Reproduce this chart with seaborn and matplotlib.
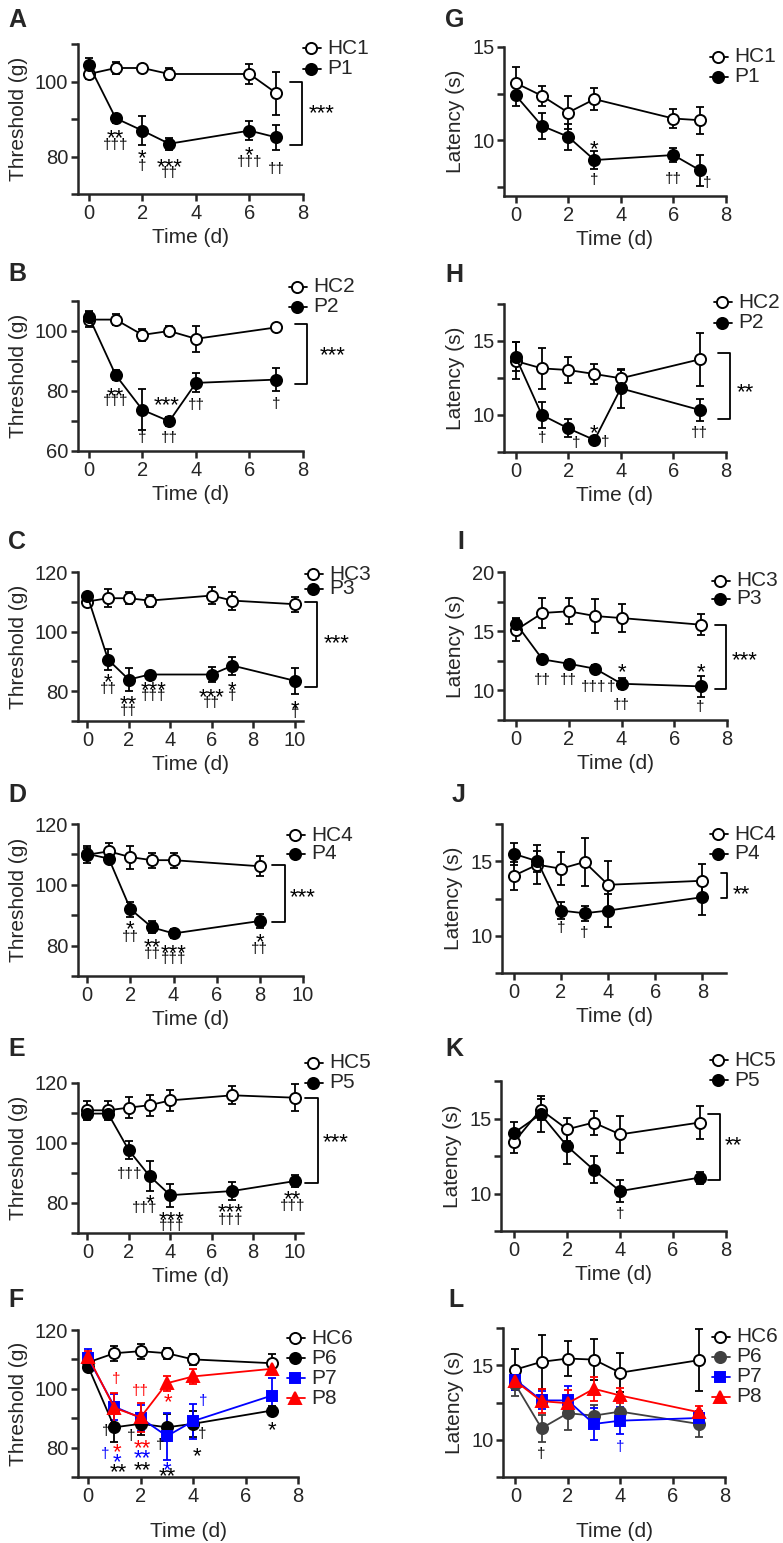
import matplotlib
matplotlib.use("Agg")
import matplotlib.pyplot as plt
from matplotlib.lines import Line2D
import seaborn as sns
import pandas as pd

W, H = 783, 1543

# ---------------- threshold (g) panels A-F ----------------
days_A = [0, 1, 2, 3, 6, 7]
hc1_thr = [102.0, 103.6, 103.6, 102.0, 102.0, 96.9]
hc1_thr_err = [1.3, 1.5, 0.5, 1.5, 2.6, 5.7]
p1_thr = [104.4, 90.2, 86.9, 83.4, 86.9, 85.1]
p1_thr_err = [2.0, 1.2, 3.8, 1.6, 2.5, 3.3]

days_B = [0, 1, 2, 3, 4, 7]
hc2_thr = [103.8, 103.8, 98.7, 100.0, 97.4, 101.2]
hc2_thr_err = [2.5, 1.9, 2.0, 1.8, 4.4, 0.5]
p2_thr = [104.7, 85.3, 73.7, 69.9, 82.7, 83.8]
p2_thr_err = [2.0, 1.7, 6.8, 1.5, 3.2, 3.8]

days_C = [0, 1, 2, 3, 6, 7, 10]
hc3_thr = [110.1, 111.2, 111.2, 110.4, 112.1, 110.4, 109.2]
hc3_thr_err = [1.5, 3.0, 2.0, 2.0, 3.0, 3.0, 2.5]
p3_thr = [112.1, 90.6, 83.9, 85.6, 85.6, 88.6, 83.5]
p3_thr_err = [1.0, 3.5, 3.8, 0.8, 2.5, 3.0, 4.3]

days_D = [0, 1, 2, 3, 4, 8]
hc4_thr = [109.9, 111.0, 109.1, 108.1, 108.1, 106.1]
hc4_thr_err = [2.8, 2.8, 3.8, 2.5, 2.5, 3.3]
p4_thr = [110.2, 108.6, 92.0, 86.0, 84.0, 88.1]
p4_thr_err = [2.0, 1.0, 2.5, 2.0, 1.5, 2.3]

days_E = [0, 1, 2, 3, 4, 7, 10]
hc5_thr = [110.9, 110.9, 111.8, 112.6, 114.2, 115.9, 115.1]
hc5_thr_err = [3.0, 3.0, 3.5, 3.5, 3.5, 3.0, 4.5]
p5_thr = [109.8, 109.8, 97.6, 89.0, 82.6, 84.0, 87.3]
p5_thr_err = [2.0, 2.0, 3.0, 5.0, 3.8, 3.0, 2.0]

days_F = [0, 1, 2, 3, 4, 7]
hc6_thr = [109.0, 112.1, 112.8, 112.1, 110.0, 108.7]
hc6_thr_err = [2.0, 2.5, 2.5, 1.8, 2.0, 3.0]
p6_thr = [107.5, 86.9, 88.1, 86.9, 88.1, 92.6]
p6_thr_err = [1.5, 5.0, 3.8, 4.5, 4.5, 1.5]
p7_thr = [110.4, 93.9, 90.1, 83.9, 89.0, 97.7]
p7_thr_err = [3.0, 4.5, 4.5, 8.0, 6.0, 6.0]
p8_thr = [110.9, 93.5, 90.3, 101.9, 104.2, 106.8]
p8_thr_err = [2.0, 5.0, 5.0, 2.5, 2.5, 1.0]

# ---------------- latency (s) panels G-L ----------------
days_G = [0, 1, 2, 3, 6, 7]
hc1_lat = [13.07, 12.38, 11.48, 12.20, 11.16, 11.07]
hc1_lat_err = [0.85, 0.55, 0.90, 0.60, 0.50, 0.73]
p1_lat = [12.41, 10.77, 10.18, 8.93, 9.20, 8.39]
p1_lat_err = [0.60, 0.70, 0.70, 0.50, 0.40, 0.83]

days_H = [0, 1, 2, 3, 4, 7]
hc2_lat = [13.65, 13.15, 13.04, 12.77, 12.48, 13.76]
hc2_lat_err = [1.25, 1.40, 0.85, 0.65, 0.55, 1.80]
p2_lat = [13.94, 10.00, 9.10, 8.31, 11.80, 10.34]
p2_lat_err = [1.00, 0.90, 0.60, 0.20, 1.30, 0.75]

days_I = [0, 1, 2, 3, 4, 7]
hc3_lat = [15.10, 16.54, 16.68, 16.28, 16.11, 15.55]
hc3_lat_err = [0.90, 1.30, 1.10, 1.40, 1.20, 0.90]
p3_lat = [15.63, 12.62, 12.25, 11.83, 10.56, 10.34]
p3_lat_err = [0.50, 0.10, 0.30, 0.35, 0.45, 0.90]

days_J = [0, 1, 2, 3, 4, 8]
hc4_lat = [14.03, 14.77, 14.50, 14.95, 13.42, 13.69]
hc4_lat_err = [0.95, 1.30, 1.10, 1.60, 1.60, 1.10]
p4_lat = [15.50, 15.00, 11.69, 11.51, 11.69, 12.59]
p4_lat_err = [0.75, 0.70, 0.55, 0.50, 1.10, 1.20]

days_K = [0, 1, 2, 3, 4, 7]
hc5_lat = [13.45, 15.59, 14.28, 14.73, 13.94, 14.73]
hc5_lat_err = [0.75, 0.70, 0.75, 0.80, 1.25, 1.10]
p5_lat = [14.05, 15.29, 13.15, 11.58, 10.16, 11.06]
p5_lat_err = [0.70, 1.20, 1.20, 0.90, 0.75, 0.40]

days_L = [0, 1, 2, 3, 4, 7]
hc6_lat = [14.71, 15.23, 15.45, 15.38, 14.50, 15.34]
hc6_lat_err = [1.40, 1.80, 1.20, 1.40, 1.30, 2.10]
p6_lat = [13.72, 10.77, 11.78, 11.62, 11.89, 11.06]
p6_lat_err = [0.80, 0.90, 1.10, 0.70, 1.00, 0.90]
p7_lat = [14.03, 12.64, 12.64, 11.06, 11.28, 11.46]
p7_lat_err = [0.70, 0.60, 1.00, 1.10, 0.90, 0.50]
p8_lat = [13.94, 12.59, 12.45, 13.42, 12.97, 11.85]
p8_lat_err = [0.50, 0.80, 0.90, 0.80, 0.50, 0.40]

# significance marks: (day, level, text, colour)
K_, B_, R_, G_ = "black", "#0000ff", "#ff0000", "#404040"
sig_A = [(1, 86.2, "**", K_), (1, 83.1, "†††", K_), (2, 80.9, "*", K_), (2, 77.5, "†", K_),
         (3, 78.7, "***", K_), (3, 75.6, "††", K_), (6, 81.8, "*", K_), (6, 78.5, "†††", K_),
         (7, 76.7, "††", K_)]
sig_B = [(1, 80.2, "**", K_), (1, 76.5, "†††", K_), (2, 64.4, "†", K_), (2.9, 76.9, "***", K_),
         (3, 64.4, "††", K_), (4, 75.4, "††", K_), (7, 75.6, "†", K_)]
sig_C = [(1, 84.7, "*", K_), (1, 80.7, "††", K_), (2, 77.4, "**", K_), (2, 73.4, "††", K_),
         (3.18, 82.2, "***", K_), (3.18, 78.5, "†††", K_), (6, 79.9, "***", K_), (6, 76.0, "††", K_),
         (7, 82.2, "*", K_), (7, 78.3, "†", K_), (10, 75.7, "*", K_), (10, 72.6, "†", K_)]
sig_D = [(2, 87.0, "*", K_), (2, 82.9, "††", K_), (3, 81.2, "**", K_), (3, 77.3, "††", K_),
         (4, 79.2, "***", K_), (4, 75.5, "†††", K_), (8, 82.9, "*", K_), (8, 79.0, "††", K_)]
sig_E = [(2.05, 89.8, "†††", K_), (3.0, 81.8, "*", K_), (2.78, 78.4, "†††", K_),
         (4.06, 75.9, "***", K_), (4.06, 72.2, "†††", K_), (6.9, 78.7, "***", K_),
         (6.9, 74.4, "†††", K_), (9.9, 83.1, "**", K_), (9.9, 78.9, "†††", K_)]
sig_F = [(1.08, 103.4, "†", R_), (2.0, 99.1, "††", R_), (3.03, 97.1, "*", R_),
         (1.08, 80.2, "*", R_), (2.08, 81.6, "**", R_),
         (0.64, 77.9, "†", B_), (1.08, 76.8, "*", B_), (2.08, 78.3, "**", B_),
         (3.02, 74.3, "*", B_), (4.37, 95.7, "†", B_),
         (0.68, 85.8, "†", K_), (1.15, 73.4, "**", K_), (1.62, 83.9, "†", K_),
         (2.08, 74.3, "**", K_), (2.76, 80.8, "†", K_), (3.0, 72.1, "**", K_),
         (4.36, 84.5, "†", K_), (4.14, 79.0, "*", K_), (7.0, 87.8, "*", K_)]
sig_G = [(3, 9.79, "*", K_), (3, 7.86, "†", K_), (6, 7.90, "††", K_), (7.3, 7.71, "†", K_)]
sig_H = [(1, 8.42, "†", K_), (2.3, 8.13, "†", K_), (3, 9.14, "*", K_), (3.4, 8.15, "†", K_),
         (7, 8.76, "††", K_)]
sig_I = [(1, 10.9, "††", K_), (2, 10.9, "††", K_), (2.95, 10.28, "†††", K_), (3.6, 10.28, "†", K_),
         (4, 11.97, "*", K_), (4, 8.73, "††", K_), (7, 11.97, "*", K_), (7, 8.59, "†", K_)]
sig_J = [(2, 10.5, "†", K_), (3, 10.16, "†", K_)]
sig_K = [(4, 8.65, "†", K_)]
sig_L = [(1, 9.03, "†", K_), (4, 9.53, "†", B_)]

# group comparison brackets: (x0, x1, top, bottom, text, text x, text y)
brk = {
    "A": (7.5, 7.96, 100, 83.1, "***", 8.7, 92.9),
    "B": (7.71, 8.15, 102.3, 82.4, "***", 9.09, 93.7),
    "C": (10.48, 11.07, 109.8, 81.3, "***", 12.0, 98.0),
    "D": (8.55, 9.17, 106.4, 87.8, "***", 10.0, 97.8),
    "E": (10.48, 11.12, 115.1, 86.8, "***", 11.97, 102.0),
    "H": (7.71, 8.15, 14.17, 9.73, "**", 8.72, 11.91),
    "I": (7.56, 7.95, 15.55, 10.14, "***", 8.66, 13.04),
    "J": (8.78, 9.06, 14.21, 12.52, "**", 9.63, 13.15),
    "K": (7.33, 7.77, 15.29, 10.9, "**", 8.28, 13.6),
}

OPEN = dict(color="black", marker="o", mfc="white", ms=8)
FILL = dict(color="black", marker="o", mfc="black", ms=8)
GREY = dict(color=G_, marker="o", mfc=G_, ms=8)
BLUE = dict(color=B_, marker="s", mfc=B_, ms=7.5)
RED = dict(color=R_, marker="^", mfc=R_, ms=8)

thr_y = dict(ylabel="Threshold (g)")
lat_y = dict(ylabel="Latency (s)")

panels = [
    dict(letter="A", pos=(8, 8), box=(78, 303, 44, 194), xlim=(-0.41, 8), ylim=(70, 110),
         xt=range(0, 9, 2), yt=[80, 100], ym=[70, 90, 110], sig=sig_A,
         series=[("HC1", days_A, hc1_thr, hc1_thr_err, OPEN), ("P1", days_A, p1_thr, p1_thr_err, FILL)],
         leg=(311, 48, 21), **thr_y),
    dict(letter="B", pos=(8, 262), box=(78, 303, 301, 451), xlim=(-0.41, 8), ylim=(60, 110),
         xt=range(0, 9, 2), yt=[60, 80, 100], ym=[70, 90, 110], sig=sig_B,
         series=[("HC2", days_B, hc2_thr, hc2_thr_err, OPEN), ("P2", days_B, p2_thr, p2_thr_err, FILL)],
         leg=(297, 287, 20), **thr_y),
    dict(letter="C", pos=(8, 530), box=(78, 303, 572, 721), xlim=(-0.45, 10.4), ylim=(70, 120),
         xt=range(0, 11, 2), yt=[80, 100, 120], ym=[70, 90, 110], sig=sig_C,
         series=[("HC3", days_C, hc3_thr, hc3_thr_err, OPEN), ("P3", days_C, p3_thr, p3_thr_err, FILL)],
         leg=(313, 574, 15), **thr_y),
    dict(letter="D", pos=(8, 783), box=(78, 303, 824, 976), xlim=(-0.43, 10), ylim=(70, 120),
         xt=range(0, 11, 2), yt=[80, 100, 120], ym=[70, 90, 110], sig=sig_D,
         series=[("HC4", days_D, hc4_thr, hc4_thr_err, OPEN), ("P4", days_D, p4_thr, p4_thr_err, FILL)],
         leg=(295, 835, 19), **thr_y),
    dict(letter="E", pos=(8, 1037), box=(78, 303, 1083, 1233), xlim=(-0.45, 10.4), ylim=(70, 120),
         xt=range(0, 11, 2), yt=[80, 100, 120], ym=[70, 90, 110], sig=sig_E,
         series=[("HC5", days_E, hc5_thr, hc5_thr_err, OPEN), ("P5", days_E, p5_thr, p5_thr_err, FILL)],
         leg=(313, 1063, 20), **thr_y),
    dict(letter="F", pos=(8, 1288), box=(78, 298, 1330, 1477), xlim=(-0.39, 8), ylim=(70, 120),
         xt=range(0, 9, 2), yt=[80, 100, 120], ym=[70, 90, 110], sig=sig_F, xpad=12,
         series=[("HC6", days_F, hc6_thr, hc6_thr_err, OPEN), ("P6", days_F, p6_thr, p6_thr_err, FILL),
                 ("P7", days_F, p7_thr, p7_thr_err, BLUE), ("P8", days_F, p8_thr, p8_thr_err, RED)],
         leg=(295, 1338, 20), **thr_y),
    dict(letter="G", pos=(445, 8), box=(504, 726, 47, 196), xlim=(-0.44, 8), ylim=(7, 15),
         xt=range(0, 9, 2), yt=[10, 15], ym=[7.5, 12.5], sig=sig_G,
         series=[("HC1", days_G, hc1_lat, hc1_lat_err, OPEN), ("P1", days_G, p1_lat, p1_lat_err, FILL)],
         leg=(718, 57, 20), **lat_y),
    dict(letter="H", pos=(445, 263), box=(504, 726, 304, 452), xlim=(-0.44, 8), ylim=(7.5, 17.5),
         xt=range(0, 9, 2), yt=[10, 15], ym=[7.5, 12.5, 17.5], sig=sig_H,
         series=[("HC2", days_H, hc2_lat, hc2_lat_err, OPEN), ("P2", days_H, p2_lat, p2_lat_err, FILL)],
         leg=(722, 302, 21), **lat_y),
    dict(letter="I", pos=(457, 530), box=(504, 727, 572, 720), xlim=(-0.46, 8), ylim=(7.5, 20),
         xt=range(0, 9, 2), yt=[10, 15, 20], ym=[7.5, 12.5, 17.5], sig=sig_I,
         series=[("HC3", days_I, hc3_lat, hc3_lat_err, OPEN), ("P3", days_I, p3_lat, p3_lat_err, FILL)],
         leg=(720, 581, 18), **lat_y),
    dict(letter="J", pos=(452, 783), box=(502, 726, 824, 973), xlim=(-0.5, 9), ylim=(7.5, 17.5),
         xt=range(0, 9, 2), yt=[10, 15], ym=[7.5, 12.5, 17.5], sig=sig_J,
         series=[("HC4", days_J, hc4_lat, hc4_lat_err, OPEN), ("P4", days_J, p4_lat, p4_lat_err, FILL)],
         leg=(718, 834, 20), **lat_y),
    dict(letter="K", pos=(445, 1037), box=(501, 726, 1081, 1231), xlim=(-0.5, 8), ylim=(7.5, 17.5),
         xt=range(0, 9, 2), yt=[10, 15], ym=[7.5, 12.5, 17.5], sig=sig_K,
         series=[("HC5", days_K, hc5_lat, hc5_lat_err, OPEN), ("P5", days_K, p5_lat, p5_lat_err, FILL)],
         leg=(718, 1060, 20), **lat_y),
    dict(letter="L", pos=(448, 1288), box=(503, 725, 1328, 1477), xlim=(-0.47, 8), ylim=(7.5, 17.5),
         xt=range(0, 9, 2), yt=[10, 15], ym=[7.5, 12.5, 17.5], sig=sig_L, xpad=12,
         series=[("HC6", days_L, hc6_lat, hc6_lat_err, OPEN), ("P6", days_L, p6_lat, p6_lat_err, GREY),
                 ("P7", days_L, p7_lat, p7_lat_err, BLUE), ("P8", days_L, p8_lat, p8_lat_err, RED)],
         leg=(720, 1337, 20), **lat_y),
]

sns.set_style("ticks")
plt.rcParams["font.family"] = ["Liberation Sans", "DejaVu Sans"]

fig = plt.figure(figsize=(W / 100, H / 100), dpi=100)
LW = 1.3
# (font size, vertical nudge in pt) -- asterisks sit high in their glyph box
GLYPH = {"*": (16, -4.2), "†": (11, 0.0)}


def mark(ax, x, y, txt, col):
    size, dy = GLYPH[txt[0]]
    ax.annotate(txt, xy=(x, y), xytext=(0, dy), textcoords="offset points",
                ha="center", va="center", fontsize=size, color=col, annotation_clip=False)


for p in panels:
    l, r, t, b = p["box"]
    ax = fig.add_axes([l / W, 1 - b / H, (r - l) / W, (b - t) / H])

    for name, days, mean, err, st in p["series"]:
        df = pd.DataFrame({"day": days, "value": mean})
        ax.errorbar(days, mean, yerr=err, fmt="none", ecolor=st["color"], elinewidth=LW,
                    capsize=3, capthick=LW, zorder=2)
        sns.lineplot(data=df, x="day", y="value", ax=ax, color=st["color"], marker=st["marker"],
                     markersize=st["ms"], markerfacecolor=st["mfc"], markeredgecolor=st["color"],
                     markeredgewidth=1.4, linewidth=LW, errorbar=None, legend=False, zorder=3)

    ax.set_xlim(*p["xlim"])
    ax.set_ylim(*p["ylim"])
    ax.set_xticks(list(p["xt"]))
    ax.set_yticks(p["yt"])
    ax.set_yticks(p["ym"], minor=True)
    sns.despine(ax=ax)
    for s in ("left", "bottom"):
        ax.spines[s].set_linewidth(1.8)
    ax.tick_params(which="both", length=5, width=1.8, labelsize=14.5, pad=2)
    ax.set_xlabel("Time (d)", fontsize=15, labelpad=p.get("xpad", 4))
    ax.set_ylabel(p["ylabel"], fontsize=15, labelpad=5)

    for x, y, txt, col in p["sig"]:
        mark(ax, x, y, txt, col)

    if p["letter"] in brk:
        x0, x1, yt_, yb_, txt, tx, ty = brk[p["letter"]]
        ax.plot([x0, x1, x1, x0], [yt_, yt_, yb_, yb_], color="black", lw=LW, clip_on=False)
        mark(ax, tx, ty, txt, "black")

    # legend drawn as in the original (symbol with line stub, then label)
    mx, my, step = p["leg"]
    for i, (name, _, _, _, st) in enumerate(p["series"]):
        yy = 1 - (my + i * step) / H
        fig.add_artist(Line2D([(mx - 8) / W, mx / W, (mx + 10) / W], [yy] * 3, color=st["color"],
                              lw=LW, marker=st["marker"], markevery=[1], ms=st["ms"],
                              mfc=st["mfc"], mec=st["color"], mew=1.4))
        fig.text((mx + 16) / W, yy, name, fontsize=15, ha="left", va="center")

    fig.text(p["pos"][0] / W, 1 - p["pos"][1] / H, p["letter"], fontsize=18,
             fontweight="bold", ha="left", va="top")

fig.savefig("out.png", dpi=100)
